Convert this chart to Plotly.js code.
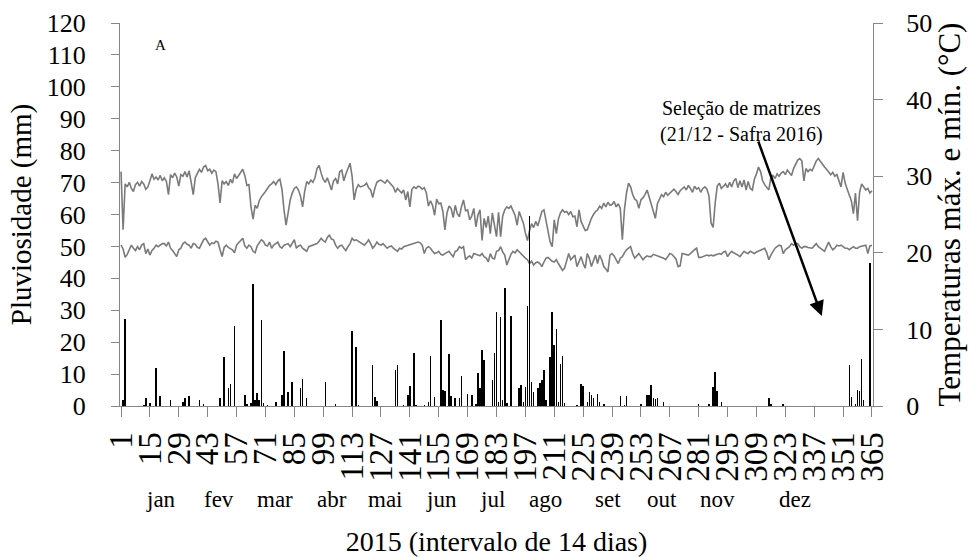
<!DOCTYPE html>
<html>
<head>
<meta charset="utf-8">
<script src="https://cdn.plot.ly/plotly-3.0.1.min.js"></script>
<style>html,body{margin:0;padding:0;background:#fff;}#chart{width:978px;height:557px;}</style>
</head>
<body>
<div id="chart"></div>
<script>
// ---- DATA ----
const tickDays = [1,15,29,43,57,71,85,99,113,127,141,155,169,183,197,211,225,239,253,267,281,295,309,323,337,351,365];
const tickLabels = ["1","15","29","43","57","71","85","99","113","127","141","155","169","183","197","211","225","239","253","267","281","295","309","323","337","351","365"];
const months = ["jan","fev","mar","abr","mai","jun","jul","ago","set","out","nov","dez"];
const monthPos = [20.3,48.5,75.6,103.3,129.4,156.1,181.3,206.6,237.1,263.2,289.9,327.7];

// daily rainfall (mm): only rainy days listed
const rainDays = [2,3,12,13,15,18,20,25,31,32,34,39,41,49,51,53,54,56,61,62,64,65,66,67,68,69,70,72,76,79,80,82,84,
  88,89,91,100,105,113,115,116,123,124,125,134,135,138,140,141,143,144,148,150,151,153,156,157,158,160,161,163,165,166,169,171,173,174,175,176,177,
  181,182,183,184,185,186,187,188,190,194,195,196,197,198,199,200,201,203,204,205,206,207,209,210,211,212,213,214,215,216,
  222,224,225,227,228,229,230,232,233,235,243,245,246,253,256,257,258,259,260,261,264,
  281,286,288,289,290,292,315,316,322,354,355,357,358,359,360,361,364];
const rainMm = [1.9,27.2,0.3,2.4,0.8,12.0,3.1,1.9,1.4,2.6,3.1,1.9,0.6,2.4,15.5,5.5,6.8,25.2,3.4,0.6,1.0,38.1,1.9,4.2,1.9,26.8,1.0,0.4,1.4,3.4,17.2,4.4,7.4,
  5.5,8.6,2.4,7.4,0.5,23.6,18.4,0.4,13.0,2.9,1.7,11.3,12.9,0.4,3.4,6.2,16.6,0.4,0.4,1.4,15.8,2.9,26.8,5.0,4.6,16.2,3.1,2.4,2.4,9.4,3.9,3.4,0.6,10.2,5.5,17.5,14.4,
  8.3,16.6,29.4,1.4,27.8,1.9,36.9,1.0,28.1,5.7,6.5,1.4,5.8,31.4,59.5,7.4,4.3,5.5,7.1,8.3,11.3,1.9,15.5,29.4,19.0,24.0,1.4,13.1,15.8,0.8,
  0.4,6.8,6.2,1.4,4.4,3.4,2.4,3.9,1.4,0.6,3.1,0.4,3.1,0.6,3.4,3.4,6.5,2.6,2.2,2.4,1.4,
  0.6,0.6,5.8,10.7,4.6,1.4,2.4,0.5,0.6,13.0,2.9,0.6,5.0,4.6,14.6,1.9,44.7];

// daily maximum temperature (°C), days 1-365
const tMax = [
30.6,23.0,29.0,28.6,29.2,28.4,28.0,28.9,29.2,28.7,
29.3,29.0,28.3,28.6,29.4,30.3,29.6,29.9,29.5,30.1,
29.4,29.8,29.3,27.6,30.2,29.8,30.4,29.9,28.7,30.2,
30.0,30.6,29.9,30.7,29.2,27.6,29.8,30.4,30.9,30.5,
31.2,31.4,30.7,30.9,30.4,30.8,30.6,29.0,26.5,29.4,
29.0,29.3,28.8,29.6,29.1,30.3,29.7,30.1,30.5,30.9,
30.1,28.8,28.9,26.0,24.4,26.2,25.8,26.8,27.3,27.6,
28.0,28.4,28.8,29.0,29.3,28.9,29.4,29.6,28.3,25.6,
23.6,25.2,26.9,27.8,28.4,28.6,28.2,27.4,26.0,28.0,
29.3,29.0,29.5,29.2,29.8,31.0,31.4,30.4,29.6,29.2,
29.8,29.0,28.2,29.4,29.7,29.0,30.6,30.8,29.4,30.3,
31.0,31.7,30.0,26.9,28.3,28.9,28.6,28.7,28.8,29.1,
28.5,28.2,27.2,28.4,29.2,29.4,29.5,29.3,29.1,29.5,
29.2,29.0,28.6,27.9,28.4,28.1,27.8,28.2,26.9,28.0,
26.0,28.3,28.6,28.4,28.7,28.6,28.3,28.5,27.8,26.1,
26.8,26.2,24.9,27.0,26.4,26.5,25.4,23.0,25.2,26.1,
25.8,24.6,26.2,25.1,24.7,26.0,26.9,25.5,25.6,24.3,
24.8,25.8,23.4,24.9,25.6,21.6,24.5,23.3,24.8,22.5,
25.2,23.6,22.1,25.3,22.1,24.8,25.6,26.0,25.8,26.1,
25.5,24.9,23.6,25.4,24.6,23.9,22.6,21.6,22.9,23.8,
23.3,24.1,23.5,24.6,25.4,25.6,24.3,22.8,21.4,20.8,
24.3,22.5,24.4,25.2,25.6,25.3,25.4,25.0,25.4,24.7,
24.8,23.4,25.6,24.1,23.6,22.9,23.0,23.8,24.5,25.0,
25.4,25.6,26.1,25.8,26.5,26.0,26.6,26.2,26.3,26.7,
26.0,26.4,25.8,21.7,25.6,27.8,29.1,28.6,27.6,27.0,
26.8,25.8,26.9,27.2,27.6,28.2,27.3,26.1,25.2,24.5,
26.4,26.9,27.6,27.3,27.9,27.5,27.8,28.0,28.3,28.0,
27.6,28.1,28.3,28.6,28.2,28.8,28.4,27.9,28.7,28.3,
28.5,27.9,28.4,28.6,28.3,27.4,23.9,23.3,26.5,28.7,
29.1,28.4,28.7,29.0,28.5,29.2,28.6,29.4,29.7,28.5,
29.4,28.6,29.5,28.2,29.3,28.4,28.2,29.6,30.3,31.2,
30.6,29.4,28.9,28.6,28.2,29.8,30.1,29.7,30.3,30.0,
30.4,30.6,30.2,30.8,30.4,30.1,31.0,31.5,32.1,32.3,
32.0,29.4,31.0,30.6,30.9,30.7,31.4,32.0,32.3,31.9,
31.5,31.2,30.9,30.6,30.2,30.5,30.0,30.2,29.4,28.6,
30.5,29.1,28.3,27.4,26.8,25.1,27.8,24.2,27.9,29.0,
28.6,28.2,28.4,27.8,28.1];

// daily minimum temperature (°C), days 1-365
const tMin = [
21.0,20.5,19.4,19.8,20.4,21.0,20.6,20.3,20.8,20.4,
21.0,21.2,19.9,20.5,19.7,20.3,20.6,21.0,20.8,21.0,
21.2,21.2,20.9,21.4,20.6,20.3,19.8,19.5,20.4,20.6,
21.2,21.4,21.1,21.0,20.6,21.2,21.1,20.7,20.6,21.2,
21.7,21.9,21.4,21.0,21.3,21.2,21.5,21.4,20.4,19.5,
20.7,21.0,20.7,20.6,20.4,20.0,21.0,21.3,21.6,21.9,
20.9,20.6,21.0,20.8,20.2,20.0,20.9,21.4,21.7,21.5,
21.0,20.9,21.4,20.6,21.0,21.2,21.4,20.8,20.6,21.0,
21.1,21.2,20.8,21.3,21.7,20.6,20.9,21.0,20.6,20.4,
20.2,20.8,20.9,21.0,21.1,21.2,21.5,21.9,21.6,21.4,
22.0,22.3,21.8,21.7,21.0,20.6,20.9,21.0,20.6,20.3,
20.8,21.2,21.9,21.6,21.7,21.5,21.4,21.2,21.0,21.3,
21.7,21.2,20.6,20.9,21.4,21.1,21.0,21.2,20.9,20.6,
20.8,20.9,20.6,20.4,20.2,20.6,20.5,20.8,20.9,21.0,
21.1,21.2,21.2,21.3,21.4,21.3,21.0,19.9,20.6,20.8,
20.6,20.2,19.9,20.0,20.2,19.8,19.7,19.9,20.1,20.2,
19.8,19.5,20.2,20.3,20.8,20.6,20.8,19.1,19.4,19.6,
19.3,19.9,19.8,19.7,19.6,19.9,19.5,19.3,18.8,19.9,
19.3,19.2,20.2,20.3,20.8,20.1,19.7,18.4,19.1,19.8,
20.2,20.0,20.4,20.1,19.9,19.5,19.3,19.1,18.6,18.9,
18.4,18.7,18.8,18.6,18.2,18.8,19.3,19.4,19.1,18.9,
18.8,19.1,18.6,18.2,17.7,18.0,18.8,19.9,19.1,19.4,
19.7,18.2,19.0,19.5,18.6,18.0,19.9,19.3,18.2,19.0,
19.7,18.6,19.7,19.1,18.2,17.9,17.5,19.7,19.9,19.6,
19.1,18.6,19.3,19.5,20.0,20.4,20.6,20.8,19.9,19.3,
19.6,19.9,19.5,19.1,19.4,19.6,19.5,19.5,19.8,19.7,
19.6,19.5,19.5,19.3,19.1,19.6,19.9,19.8,19.5,19.2,
18.2,18.3,19.9,19.8,19.7,19.7,19.9,20.2,20.4,20.6,
19.4,19.4,19.5,19.6,19.7,19.6,19.7,19.6,19.7,19.8,
19.9,19.8,20.1,20.2,19.5,19.9,20.2,20.0,19.9,19.7,
19.5,19.9,20.2,20.0,19.9,20.2,20.0,19.9,20.1,20.2,
20.4,20.5,20.6,20.0,19.1,19.7,20.2,20.6,20.8,21.0,
20.9,19.9,20.4,20.6,20.8,21.2,21.0,21.2,21.2,20.8,
20.6,20.8,20.8,20.7,20.6,20.6,20.9,21.2,20.8,20.6,
20.3,20.2,20.8,21.4,20.8,20.4,20.6,21.0,20.9,21.0,
20.8,20.6,20.6,20.4,20.6,20.8,20.6,20.6,20.8,20.9,
21.0,21.0,19.9,20.9,21.0];

// ---- BUILD ----
const days = tMax.map((v, i) => i + 1);
const rain = days.map(() => 0);
rainDays.forEach((d, i) => { rain[d - 1] = rainMm[i]; });

const FONT = 'Liberation Serif';
const AX = '#868686';

const traces = [
  { type: 'scatter', mode: 'lines', x: days, y: tMax, yaxis: 'y',
    line: { color: '#7a7a7a', width: 1.6 }, hoverinfo: 'skip', showlegend: false },
  { type: 'scatter', mode: 'lines', x: days, y: tMin, yaxis: 'y',
    line: { color: '#7a7a7a', width: 1.6 }, hoverinfo: 'skip', showlegend: false },
  { type: 'bar', x: days, y: rain, yaxis: 'y2', width: 0.75,
    marker: { color: '#000', line: { width: 0 } }, showlegend: false }
];

const monthAnn = months.map((m, i) => ({
  text: m, x: monthPos[i], xref: 'x', y: -0.245, yref: 'paper',
  showarrow: false, xanchor: 'center', yanchor: 'middle',
  font: { family: FONT, size: 23, color: '#000' }
}));

const layout = {
  width: 978, height: 557,
  margin: { l: 120, r: 105, t: 23, b: 151, pad: 0 },
  paper_bgcolor: '#fff', plot_bgcolor: '#fff',
  showlegend: false,
  bargap: 0,
  font: { family: FONT, color: '#000' },
  xaxis: {
    range: [0.5, 365.5], tickmode: 'array', tickvals: tickDays, ticktext: tickLabels,
    tickangle: -90, tickfont: { family: FONT, size: 33, color: '#000' },
    ticks: 'outside', ticklen: 10, tickcolor: AX, tickwidth: 1,
    showline: true, linecolor: AX, linewidth: 1, showgrid: false, zeroline: false,
    ticklabelstandoff: 2,
    title: { text: '2015 (intervalo de 14 dias)', font: { family: FONT, size: 28, color: '#000' }, standoff: 55 }
  },
  yaxis: {
    side: 'right', range: [0, 50], tickmode: 'linear', tick0: 0, dtick: 10,
    tickfont: { family: FONT, size: 26, color: '#000' },
    ticks: 'outside', ticklen: 9, tickcolor: AX, showline: true, linecolor: AX, linewidth: 1,
    showgrid: false, zeroline: false, ticklabelstandoff: 18,
    title: { text: 'Temperaturas máx. e mín. (°C)', font: { family: FONT, size: 31, color: '#000' }, standoff: 4 }
  },
  yaxis2: {
    side: 'left', overlaying: 'y', range: [0, 120], tickmode: 'linear', tick0: 0, dtick: 10,
    tickfont: { family: FONT, size: 26, color: '#000' },
    ticks: 'outside', ticklen: 8, tickcolor: AX, showline: true, linecolor: AX, linewidth: 1,
    showgrid: false, zeroline: false, ticklabelstandoff: 20,
    title: { text: 'Pluviosidade (mm)', font: { family: FONT, size: 29, color: '#000' }, standoff: 6 }
  },
  annotations: monthAnn.concat([
    { text: 'A', x: 0.054, xref: 'paper', y: 0.943, yref: 'paper', showarrow: false,
      xanchor: 'center', yanchor: 'middle', font: { family: FONT, size: 15, color: '#000' } },
    { text: 'Seleção de matrizes<br>(21/12 - Safra 2016)', x: 0.826, xref: 'paper', y: 0.742, yref: 'paper',
      showarrow: false, xanchor: 'center', yanchor: 'middle', align: 'center',
      font: { family: FONT, size: 20, color: '#000' } },
    { text: '', x: 0.932, xref: 'paper', y: 0.235, yref: 'paper', showarrow: true,
      ax: -64, ay: -176, arrowhead: 2, arrowsize: 1.2, arrowwidth: 2.5, arrowcolor: '#000', standoff: 0 }
  ])
};

Plotly.newPlot('chart', traces, layout, { staticPlot: true, displayModeBar: false });
</script>
</body>
</html>
